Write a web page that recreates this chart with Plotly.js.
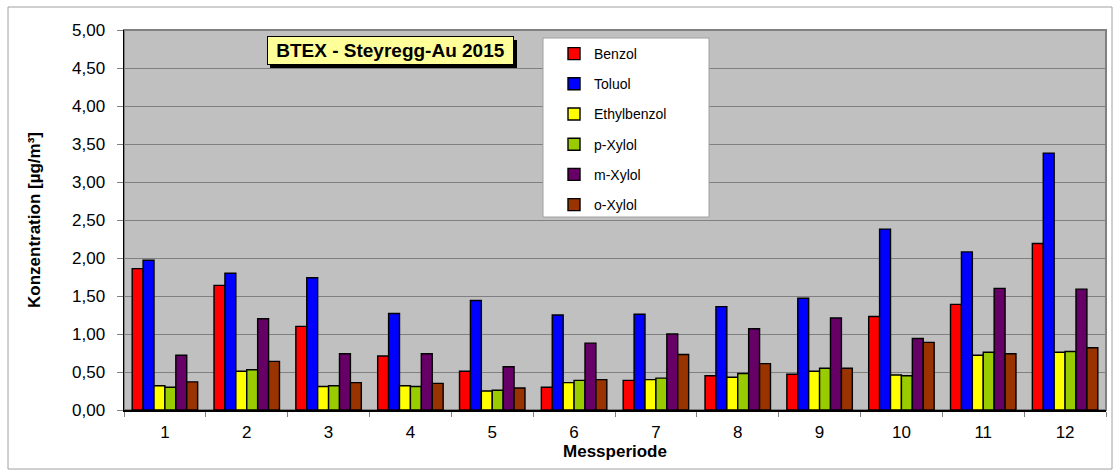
<!DOCTYPE html>
<html>
<head>
<meta charset="utf-8">
<script src="https://cdn.plot.ly/plotly-3.0.1.min.js"></script>
<style>
html,body{margin:0;padding:0;background:#fff;}
#chart{width:1113px;height:470px;}
</style>
</head>
<body>
<div id="chart"></div>
<script>
const periods = ["1","2","3","4","5","6","7","8","9","10","11","12"];
const benzol       = [1.86,1.64,1.10,0.71,0.51,0.30,0.39,0.45,0.47,1.23,1.39,2.19];
const toluol       = [1.97,1.80,1.74,1.27,1.44,1.25,1.26,1.36,1.47,2.38,2.08,3.38];
const ethylbenzol  = [0.32,0.51,0.31,0.32,0.25,0.36,0.40,0.43,0.51,0.46,0.72,0.76];
const pXylol       = [0.30,0.53,0.32,0.31,0.26,0.39,0.42,0.48,0.55,0.45,0.76,0.77];
const mXylol       = [0.72,1.20,0.74,0.74,0.57,0.88,1.00,1.07,1.21,0.94,1.60,1.59];
const oXylol       = [0.37,0.64,0.36,0.35,0.29,0.40,0.73,0.61,0.55,0.89,0.74,0.82];
const seriesNames  = ["Benzol","Toluol","Ethylbenzol","p-Xylol","m-Xylol","o-Xylol"];
const seriesValues = [benzol,toluol,ethylbenzol,pXylol,mXylol,oXylol];
const seriesColors = ["#FF0000","#0000FF","#FFFF00","#99CC00","#660066","#993300"];
const yTicks = [0,0.5,1,1.5,2,2.5,3,3.5,4,4.5,5];

const FONT = "Liberation Sans, Arial, sans-serif";

const traces = seriesNames.map((name,i)=>({
  type:"bar",
  name:name,
  x:periods,
  y:seriesValues[i],
  legendgroup:"g"+i,
  marker:{color:seriesColors[i], line:{color:"#000000", width:1.4}},
  hoverinfo:"x+y+name"
}));

// pixel helpers (plot area: left 124, top 30, width 982, height 380)
const L=124, T=30, W=982, H=380;
const px = v => (v-L)/W;
const py = v => (T+H-v)/H;

const layout = {
  width:1113, height:470,
  margin:{l:L, r:1113-L-W, t:T, b:470-T-H, pad:0},
  paper_bgcolor:"#FFFFFF",
  plot_bgcolor:"#C0C0C0",
  separators:",.",
  font:{family:FONT, color:"#000000", size:17},
  barmode:"group",
  bargap:0.2,
  bargroupgap:0,
  showlegend:true,
  legend:{
    x:px(554), y:py(38), xanchor:"left", yanchor:"top",
    bgcolor:"rgba(0,0,0,0)", borderwidth:0,
    font:{family:FONT, size:14, color:"#000"},
    tracegroupgap:9, traceorder:"grouped"
  },
  xaxis:{
    type:"category",
    tickson:"boundaries",
    ticks:"outside", ticklen:5, tickcolor:"#808080", tickwidth:1,
    ticklabelstandoff:6,
    showline:true, linecolor:"#000000", linewidth:1.5,
    showgrid:false, zeroline:false,
    tickfont:{family:FONT, size:17},
    title:{text:"<b>Messperiode</b>", font:{family:FONT, size:17}, standoff:0}
  },
  yaxis:{
    range:[0,5],
    tickvals:yTicks,
    tickformat:".2f",
    ticks:"outside", ticklen:6, tickcolor:"#808080", tickwidth:1,
    ticklabelstandoff:8,
    showline:true, linecolor:"#000000", linewidth:1.5,
    showgrid:true, gridcolor:"#808080", gridwidth:1,
    zeroline:false,
    tickfont:{family:FONT, size:17},
    title:{text:"<b>Konzentration [µg/m³]</b>", font:{family:FONT, size:17}, standoff:27}
  },
  shapes:[
    {type:"rect", xref:"paper", yref:"paper", x0:px(8), x1:px(1112), y0:py(469), y1:py(7),
     line:{color:"#A0A0A0", width:1}, fillcolor:"rgba(0,0,0,0)", layer:"below"},
    {type:"rect", xref:"paper", yref:"paper", x0:0, x1:1, y0:0, y1:1,
     line:{color:"#808080", width:2}, fillcolor:"rgba(0,0,0,0)", layer:"below"},
    {type:"rect", xref:"paper", yref:"paper", x0:px(543), x1:px(709), y0:py(217), y1:py(38),
     line:{color:"#A0A0A0", width:1}, fillcolor:"#FFFFFF", layer:"above"},
    {type:"rect", xref:"paper", yref:"paper", x0:px(270), x1:px(517), y0:py(68), y1:py(40),
     line:{width:0}, fillcolor:"#000000", layer:"above"}
  ],
  annotations:[
    {xref:"paper", yref:"paper", x:px(267), y:py(36), xanchor:"left", yanchor:"top",
     text:"<b>BTEX - Steyregg-Au 2015</b>", showarrow:false,
     font:{family:FONT, size:19, color:"#000"},
     bgcolor:"#FFFF99", bordercolor:"#000000", borderwidth:1, borderpad:0,
     width:245, height:27, align:"center", valign:"middle"}
  ]
};

Plotly.newPlot("chart", traces, layout, {displayModeBar:false, staticPlot:true});
</script>
</body>
</html>
